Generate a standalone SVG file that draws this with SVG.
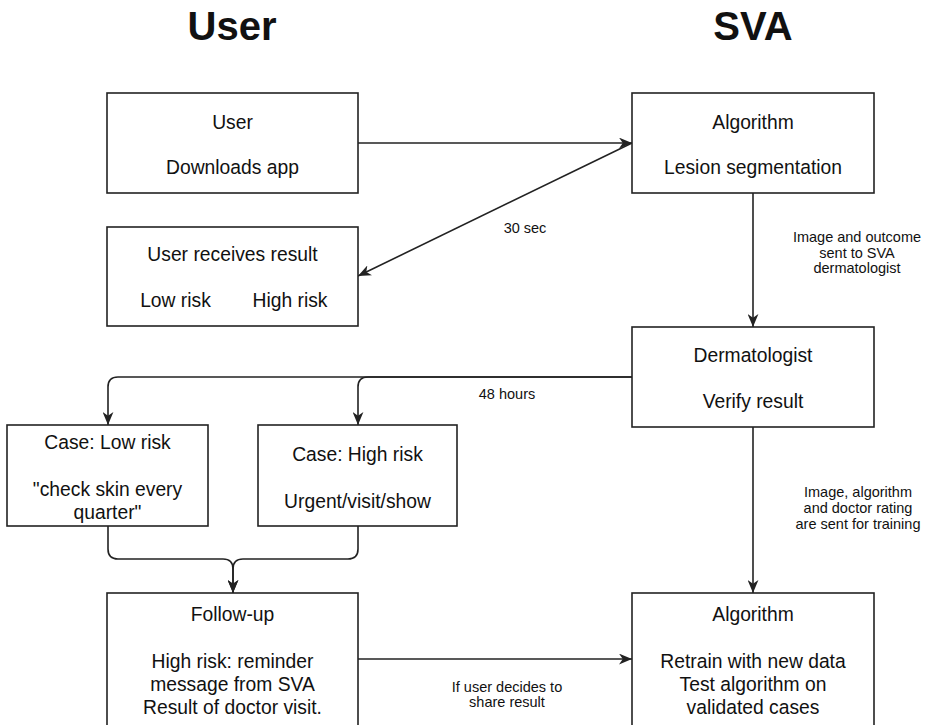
<svg xmlns="http://www.w3.org/2000/svg" width="926" height="725" viewBox="0 0 926 725">
<style>
.box{fill:#fff;stroke:#222;stroke-width:1.6}
.t{font-family:"Liberation Sans",Arial,Helvetica,sans-serif;font-size:19.3px;fill:#111;text-anchor:middle}
.l{font-family:"Liberation Sans",Arial,Helvetica,sans-serif;font-size:14.5px;fill:#111;text-anchor:middle}
.h{font-family:"Liberation Sans",Arial,Helvetica,sans-serif;font-size:40px;font-weight:bold;fill:#111;text-anchor:middle}
.c{fill:none;stroke:#222;stroke-width:1.6}
</style>
<defs>
<marker id="arr" viewBox="0 0 12 10" refX="12" refY="5" markerWidth="13" markerHeight="11" markerUnits="userSpaceOnUse" orient="auto">
<path d="M0,0 L12,5 L0,10 L3.5,5 Z" fill="#222"/>
</marker>
</defs>
<rect width="926" height="725" fill="#fff"/>
<text class="h" x="232" y="40">User</text>
<text class="h" x="753" y="40">SVA</text>

<g id="connectors">
<path class="c" d="M358,143 L632,143" marker-end="url(#arr)"/>
<path class="c" d="M632,143 L358,276" marker-end="url(#arr)"/>
<path class="c" d="M753,193 L753,327" marker-end="url(#arr)"/>
<path class="c" d="M632,377 L118,377 Q108,377 108,387 L108,425" marker-end="url(#arr)"/>
<path class="c" d="M632,377 L368,377 Q358,377 358,387 L358,425" marker-end="url(#arr)"/>
<path class="c" d="M753,427 L753,593" marker-end="url(#arr)"/>
<path class="c" d="M108,526 L108,549 Q108,559 118,559 L223,559 Q233,559 233,569 L233,593" marker-end="url(#arr)"/>
<path class="c" d="M358,526 L358,549 Q358,559 348,559 L243,559 Q233,559 233,569 L233,593" marker-end="url(#arr)"/>
<path class="c" d="M358,659 L632,659" marker-end="url(#arr)"/>
<text class="l" x="525" y="233">30 sec</text>
<text class="l" x="857" y="242">Image and outcome</text>
<text class="l" x="857" y="257.5">sent to SVA</text>
<text class="l" x="857" y="273">dermatologist</text>
<text class="l" x="507" y="399">48 hours</text>
<text class="l" x="858" y="497">Image, algorithm</text>
<text class="l" x="858" y="513">and doctor rating</text>
<text class="l" x="858" y="529">are sent for training</text>
<text class="l" x="507" y="692">If user decides to</text>
<text class="l" x="507" y="707">share result</text>
</g>

<g id="user-downloads">
<rect class="box" x="107" y="93" width="251" height="100"/>
<text class="t" x="232.5" y="129">User</text>
<text class="t" x="232.5" y="174">Downloads app</text>
</g>
<g id="user-receives">
<rect class="box" x="107" y="227" width="251" height="99"/>
<text class="t" x="232.5" y="261">User receives result</text>
<text class="t" x="175.5" y="307">Low risk</text>
<text class="t" x="290" y="307">High risk</text>
</g>
<g id="algorithm-segmentation">
<rect class="box" x="632" y="93" width="242" height="100"/>
<text class="t" x="753" y="129">Algorithm</text>
<text class="t" x="753" y="174">Lesion segmentation</text>
</g>
<g id="dermatologist">
<rect class="box" x="632" y="327" width="242" height="100"/>
<text class="t" x="753" y="362">Dermatologist</text>
<text class="t" x="753" y="408">Verify result</text>
</g>
<g id="case-low">
<rect class="box" x="7" y="425" width="201" height="101"/>
<text class="t" x="107.5" y="449">Case: Low risk</text>
<text class="t" x="107.5" y="496">"check skin every</text>
<text class="t" x="107.5" y="519">quarter"</text>
</g>
<g id="case-high">
<rect class="box" x="258" y="425" width="199" height="101"/>
<text class="t" x="357.5" y="461">Case: High risk</text>
<text class="t" x="357.5" y="508">Urgent/visit/show</text>
</g>
<g id="follow-up">
<rect class="box" x="107" y="593" width="251" height="150"/>
<text class="t" x="232.5" y="621">Follow-up</text>
<text class="t" x="232.5" y="668">High risk: reminder</text>
<text class="t" x="232.5" y="691">message from SVA</text>
<text class="t" x="232.5" y="714">Result of doctor visit.</text>
</g>
<g id="algorithm-retrain">
<rect class="box" x="632" y="593" width="242" height="150"/>
<text class="t" x="753" y="621">Algorithm</text>
<text class="t" x="753" y="668">Retrain with new data</text>
<text class="t" x="753" y="691">Test algorithm on</text>
<text class="t" x="753" y="714">validated cases</text>
</g>
</svg>
